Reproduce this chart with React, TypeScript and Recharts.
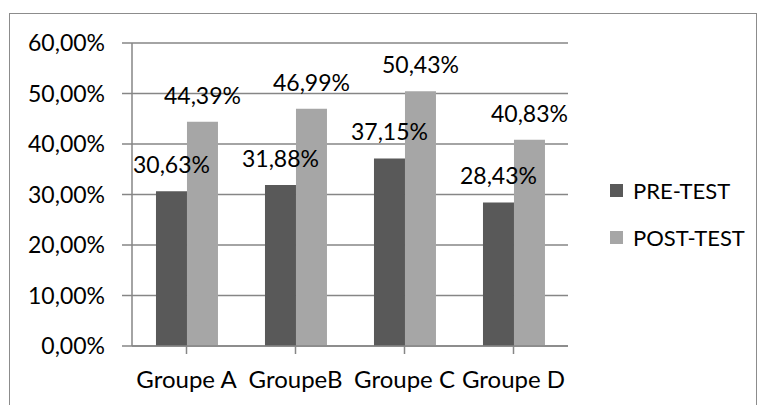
import { BarChart, Bar, XAxis, YAxis, CartesianGrid, LabelList } from 'recharts';

const groups = ['Groupe A', 'GroupeB', 'Groupe C', 'Groupe D'];
const preTest = [30.63, 31.88, 37.15, 28.43];
const postTest = [44.39, 46.99, 50.43, 40.83];
const yTicks = [0, 10, 20, 30, 40, 50, 60];

const FONT = 'Lato, sans-serif';
const FS = 23;
const GRID = '#868686';
const PRE_COLOR = '#595959';
const POST_COLOR = '#a6a6a6';

const fmt = (v: number) => v.toFixed(2).replace('.', ',') + '%';

const data = groups.map((g, i) => ({ group: g, pre: preTest[i], post: postTest[i] }));

function ValueLabel(props: any) {
  const { x, y, width, value } = props;
  return (
    <text
      x={x + width / 2}
      y={y - 27}
      textAnchor="middle"
      dominantBaseline="central"
      fontSize={FS}
      fontFamily={FONT}
      fill="#000"
    >
      {fmt(value)}
    </text>
  );
}

const legendItems = [
  { label: 'PRE-TEST', color: PRE_COLOR },
  { label: 'POST-TEST', color: POST_COLOR },
];

export default function App() {
  return (
    <div style={{ position: 'absolute', left: 0, top: 0, width: 761, height: 405, overflow: 'hidden', background: '#fff' }}>
      <div
        style={{
          position: 'absolute',
          left: 9,
          top: 13,
          width: 746,
          height: 420,
          border: '1.5px solid #8c8c8c',
        }}
      />
      <div style={{ position: 'absolute', left: 0, top: 0 }}>
        <BarChart
          width={761}
          height={405}
          data={data}
          margin={{ top: 43, right: 193, bottom: 0, left: 0 }}
          barCategoryGap="22%"
          barGap={0}
        >
          <CartesianGrid vertical={false} stroke={GRID} strokeWidth={1.5} />
          <XAxis
            dataKey="group"
            height={59}
            stroke={GRID}
            strokeWidth={1.5}
            tickSize={8}
            tickMargin={17}
            tick={{ fontSize: 24, fontFamily: FONT, fill: '#000' }}
            interval={0}
          />
          <YAxis
            width={132}
            domain={[0, 60]}
            ticks={yTicks}
            stroke={GRID}
            strokeWidth={1.5}
            tickSize={10}
            tickMargin={17}
            tickFormatter={fmt}
            tick={{ fontSize: FS, fontFamily: FONT, fill: '#000' }}
          />
          <Bar dataKey="pre" name="PRE-TEST" fill={PRE_COLOR} isAnimationActive={false}>
            <LabelList dataKey="pre" content={<ValueLabel />} />
          </Bar>
          <Bar dataKey="post" name="POST-TEST" fill={POST_COLOR} isAnimationActive={false}>
            <LabelList dataKey="post" content={<ValueLabel />} />
          </Bar>
        </BarChart>
      </div>
      <div style={{ position: 'absolute', left: 610, top: 167, fontFamily: FONT, fontSize: 22 }}>
        {legendItems.map((it) => (
          <div key={it.label} style={{ display: 'flex', alignItems: 'center', height: 47 }}>
            <span style={{ width: 13, height: 13, background: it.color, marginRight: 10 }} />
            <span>{it.label}</span>
          </div>
        ))}
      </div>
    </div>
  );
}
